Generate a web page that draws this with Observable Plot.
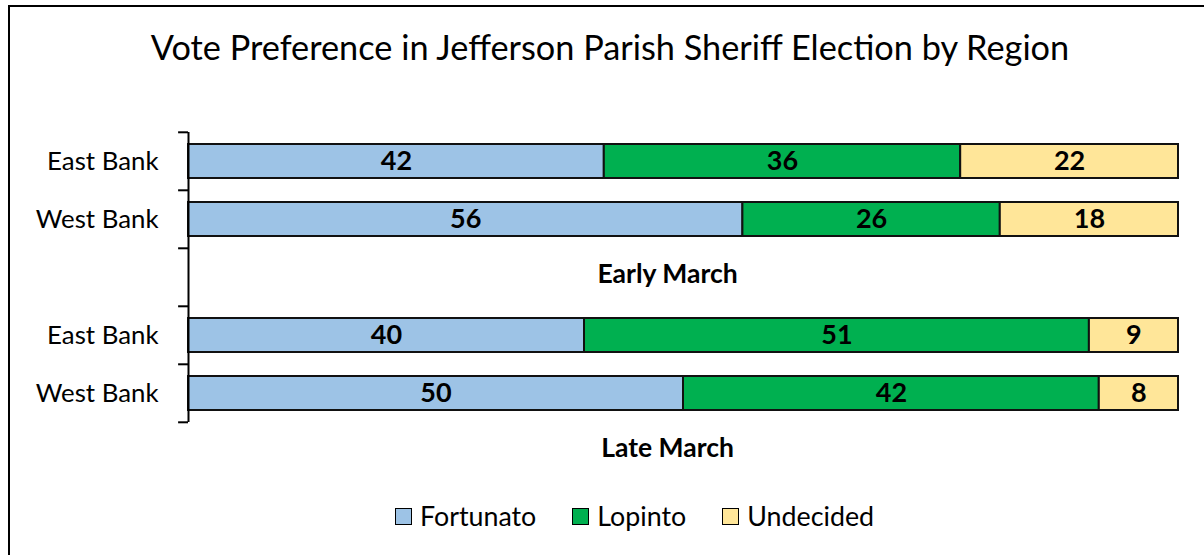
<!DOCTYPE html>
<html><head><meta charset="utf-8">
<script src="https://cdn.jsdelivr.net/npm/d3@7"></script>
<script src="https://cdn.jsdelivr.net/npm/@observablehq/plot@0.6"></script>
<style>
body{margin:0;background:#fff;}
#wrap{position:relative;width:1204px;height:555px;overflow:hidden;background:#fff;font-family:Lato, sans-serif;color:#000;}
#frame{position:absolute;left:8px;top:5px;width:1400px;height:800px;border:2px solid #000;box-sizing:border-box;}
#title{position:absolute;left:0;top:26px;width:1220px;text-align:center;font-size:34.3px;line-height:normal;white-space:nowrap;}
#chart{position:absolute;left:0;top:100px;}
#legend{position:absolute;left:395px;top:500px;display:flex;align-items:center;font-size:26.8px;line-height:normal;white-space:nowrap;}
.item{display:flex;align-items:center;margin-right:36px;}
.sw{width:15px;height:15px;border:1.5px solid #000;margin-right:8px;}
</style>
</head><body>
<div id="wrap">
  <div id="frame"></div>
  <div id="title">Vote Preference in Jefferson Parish Sheriff Election by Region</div>
  <div id="chart"></div>
  <div id="legend"></div>
</div>
<script>
const periods = ["Early March", "Late March"];
const regions = ["East Bank", "West Bank"];
const candidates = ["Fortunato", "Lopinto", "Undecided"];
const fortunato = [42, 56, 40, 50];
const lopinto = [36, 26, 51, 42];
const undecided = [22, 18, 9, 8];
const colors = ["#9DC3E6", "#00B050", "#FFE699"];

const series = {Fortunato: fortunato, Lopinto: lopinto, Undecided: undecided};
const rows = [];
periods.forEach(p => { regions.forEach(r => rows.push(p + "|" + r)); rows.push(p + "|label"); });
const data = [];
periods.forEach((p, pi) => regions.forEach((r, ri) => candidates.forEach(c => {
  data.push({row: p + "|" + r, candidate: c, value: series[c][pi * regions.length + ri]});
})));

const W = 1204, H = 392, mt = 31, mb = 10.6;
const step = (H - mt - mb) / rows.length;
const axisRows = rows.slice(0, rows.length);
const axisSpan = [{x: 0, y1: rows[0], y2: rows[rows.length - 2]}];

const chart = Plot.plot({
  width: W, height: H,
  marginLeft: 188, marginRight: 26, marginTop: mt, marginBottom: mb,
  style: {fontFamily: "Lato, sans-serif", color: "#000", background: "transparent", overflow: "visible"},
  x: {domain: [0, 100], axis: null},
  y: {domain: rows, padding: 0},
  color: {domain: candidates, range: colors},
  marks: [
    Plot.barX(data, Plot.stackX({x: "value", y: "row", fill: "candidate", order: candidates,
      stroke: "#111", strokeWidth: 2, insetTop: 12, insetBottom: 12})),
    Plot.text(data, Plot.stackX({x: "value", y: "row", z: "candidate", order: candidates,
      text: d => String(d.value), fontWeight: "bold", fontSize: 27, fill: "#000"})),
    Plot.ruleX(axisSpan, {x: "x", y1: "y1", y2: "y2", stroke: "#000", strokeWidth: 2}),
    Plot.ruleY(axisRows, {y: d => d, x1: -1, x2: 0, dy: -step / 2, stroke: "#000", strokeWidth: 2}),
    Plot.axisY({tickSize: 0, tickPadding: 30, fontSize: 25.8,
      tickFormat: d => d.endsWith("|label") ? "" : d.split("|")[1]}),
    Plot.text(periods, {y: p => p + "|label", text: d => d, fontWeight: "bold", fontSize: 26.5,
      dx: -16, dy: -3, fill: "#000"})
  ]
});
document.getElementById("chart").appendChild(chart);

const legend = document.getElementById("legend");
candidates.forEach((c, i) => {
  const it = document.createElement("div");
  it.className = "item";
  const sw = document.createElement("div");
  sw.className = "sw";
  sw.style.background = colors[i];
  const t = document.createElement("span");
  t.textContent = c;
  it.appendChild(sw); it.appendChild(t);
  legend.appendChild(it);
});
</script>
</body></html>
